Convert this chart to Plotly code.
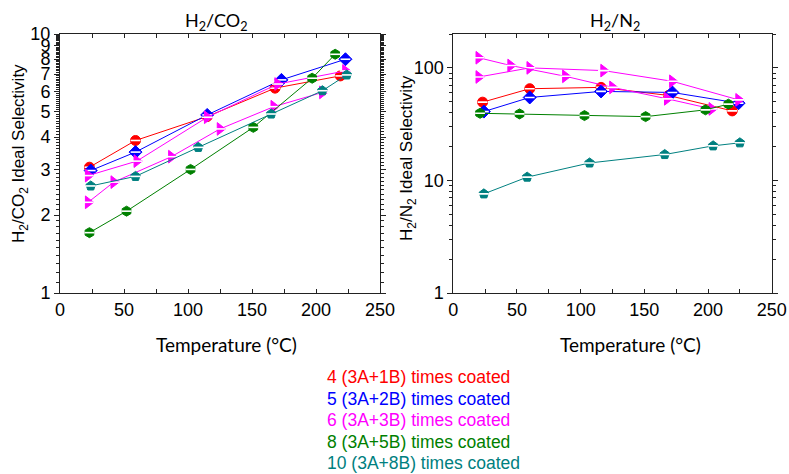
import numpy as np
import plotly.graph_objects as go

# ---------------- data ----------------
# H2/CO2 ideal selectivity (left panel)
co2_red_x = [23, 59, 115, 168, 219]
co2_red_y = [3.06, 3.88, 4.80, 6.18, 6.89]
co2_blue_x = [24, 59, 115, 173, 223]
co2_blue_y = [2.97, 3.50, 4.87, 6.65, 7.99]
co2_mag1_x = [22, 60, 115, 170, 223]
co2_mag1_y = [2.84, 3.23, 4.77, 6.41, 7.20]
co2_mag2_x = [22, 42, 87, 125, 167, 205]
co2_mag2_y = [2.24, 2.68, 3.36, 4.30, 5.24, 5.95]
co2_green_x = [23, 52, 102, 151, 197, 215]
co2_green_y = [1.71, 2.07, 3.00, 4.36, 6.75, 8.35]
co2_teal_x = [24, 59, 108, 165, 205, 224]
co2_teal_y = [2.59, 2.82, 3.65, 4.91, 6.04, 6.95]

# H2/N2 ideal selectivity (right panel)
n2_red_x = [23, 60, 116, 169, 219]
n2_red_y = [49.6, 65.3, 67.1, 56.9, 41.5]
n2_blue_x = [24, 60, 116, 172, 224]
n2_blue_y = [40.9, 54.6, 61.8, 60.5, 48.6]
n2_mag1_x = [20, 60, 118, 172, 224]
n2_mag1_y = [83.0, 100.0, 94.6, 76.0, 52.0]
n2_mag2_x = [20, 45, 88, 125, 168, 203]
n2_mag2_y = [123.0, 105.0, 84.2, 67.1, 53.1, 43.2]
n2_green_x = [21, 52, 103, 151, 198, 216]
n2_green_y = [39.5, 39.0, 37.7, 36.9, 42.4, 47.6]
n2_teal_x = [24, 58, 107, 166, 204, 225]
n2_teal_y = [7.6, 10.7, 14.3, 17.0, 20.3, 21.6]

legend_labels = ["4 (3A+1B) times coated", "5 (3A+2B) times coated",
                 "6 (3A+3B) times coated", "8 (3A+5B) times coated",
                 "10 (3A+8B) times coated"]
x_ticks = [0, 50, 100, 150, 200, 250]
co2_ticks = [1, 2, 3, 4, 5, 6, 7, 8, 9, 10]
n2_ticks = [1, 10, 100]

# ---------------- styling ----------------
RED, BLUE, MAG, GREEN, TEAL = "#ff0000", "#0000ff", "#ff00ff", "#008000", "#008080"
W, H = 789, 474
ARIAL = "Arial"
CALIBRI = "Lato"

series_left = [
    (co2_red_x, co2_red_y, RED, "circle"),
    (co2_blue_x, co2_blue_y, BLUE, "diamond"),
    (co2_mag1_x, co2_mag1_y, MAG, "triangle-right"),
    (co2_mag2_x, co2_mag2_y, MAG, "triangle-right"),
    (co2_green_x, co2_green_y, GREEN, "hexagon"),
    (co2_teal_x, co2_teal_y, TEAL, "pentagon"),
]
series_right = [
    (n2_red_x, n2_red_y, RED, "circle"),
    (n2_blue_x, n2_blue_y, BLUE, "diamond"),
    (n2_mag1_x, n2_mag1_y, MAG, "triangle-right"),
    (n2_mag2_x, n2_mag2_y, MAG, "triangle-right"),
    (n2_green_x, n2_green_y, GREEN, "hexagon"),
    (n2_teal_x, n2_teal_y, TEAL, "pentagon"),
]

fig = go.Figure()
for series, xa, ya in [(series_left, "x", "y"), (series_right, "x2", "y2")]:
    for xs, ys, col, sym in series:
        size = 11 if sym == "triangle-right" else 10
        fig.add_trace(go.Scatter(
            x=xs, y=ys, mode="lines+markers", xaxis=xa, yaxis=ya,
            line=dict(color=col, width=1),
            marker=dict(symbol=sym, size=size, color=col,
                        line=dict(color=col, width=1)),
            showlegend=False, hoverinfo="x+y"))
        # white band emulating the half-filled marker style
        fig.add_trace(go.Scatter(
            x=xs, y=ys, mode="markers", xaxis=xa, yaxis=ya,
            marker=dict(symbol="line-ew", size=size - 3,
                        line=dict(color="white", width=1.6)),
            showlegend=False, hoverinfo="skip"))

ydom = [1 - 293 / H, 1 - 34 / H]
axis_common = dict(showline=True, linecolor="#222", linewidth=1, mirror="ticks",
                   showgrid=False, zeroline=False, automargin=False,
                   tickfont=dict(family=ARIAL, size=18, color="#000"))

xcommon = dict(axis_common, range=[0, 250], tickvals=x_ticks, ticks="inside",
               ticklen=4, tickcolor="#222",
               minor=dict(tickvals=[25, 75, 125, 175, 225], ticks="inside",
                          ticklen=4, tickcolor="#222"))

co2_minor = [v for v in np.round(np.arange(1.1, 10.0, 0.1), 2) if v not in co2_ticks]
n2_minor = [m * d for d in (1, 10, 100) for m in range(2, 10) if m * d <= 200]

fig.update_layout(
    width=W, height=H, margin=dict(l=0, r=0, t=0, b=0),
    paper_bgcolor="white", plot_bgcolor="white",
    xaxis=dict(xcommon, domain=[60 / W, 380 / W], anchor="y"),
    xaxis2=dict(xcommon, domain=[453.3 / W, 771.7 / W], anchor="y2"),
    yaxis=dict(axis_common, type="log", domain=ydom, anchor="x",
               range=[0, 1], tickvals=co2_ticks, ticktext=[str(t) for t in co2_ticks],
               ticks="outside", ticklen=5, tickcolor="#222",
               minor=dict(tickvals=co2_minor, ticks="outside", ticklen=3, tickcolor="#222")),
    yaxis2=dict(axis_common, type="log", domain=ydom, anchor="x2",
                range=[0, np.log10(200)], tickvals=n2_ticks,
                ticktext=[str(t) for t in n2_ticks],
                ticks="outside", ticklen=5, tickcolor="#222",
                minor=dict(tickvals=n2_minor, ticks="outside", ticklen=3, tickcolor="#222")),
)

def px(x, y):
    return x / W, 1 - y / H

ann = []
title_font = dict(family=CALIBRI, size=18, color="#000")
for txt, (cx, cy) in [("H<sub>2</sub>/CO<sub>2</sub>", (216, 22)),
                      ("H<sub>2</sub>/N<sub>2</sub>", (615, 22))]:
    x, y = px(cx, cy)
    ann.append(dict(text=txt, x=x, y=y, xref="paper", yref="paper",
                    showarrow=False, font=title_font, xanchor="center", yanchor="middle"))
for cx in (227, 630):
    x, y = px(cx, 344)
    ann.append(dict(text="Temperature (°C)", x=x, y=y, xref="paper", yref="paper",
                    showarrow=False, font=dict(family=CALIBRI, size=19, color="#000"),
                    xanchor="center", yanchor="middle"))
for txt, (cx, cy) in [("H<sub>2</sub>/CO<sub>2</sub> Ideal Selectivity", (20, 154)),
                      ("H<sub>2</sub>/N<sub>2</sub> Ideal Selectivity", (408, 158))]:
    x, y = px(cx, cy)
    ann.append(dict(text=txt, x=x, y=y, xref="paper", yref="paper", textangle=-90,
                    showarrow=False, font=dict(family=ARIAL, size=17, color="#000"),
                    xanchor="center", yanchor="middle"))
for lab, col, cy in zip(legend_labels, [RED, BLUE, MAG, GREEN, TEAL],
                        [377, 398.5, 420, 441.5, 463]):
    x, y = px(325, cy)
    ann.append(dict(text=lab, x=x, y=y, xref="paper", yref="paper", showarrow=False,
                    font=dict(family=ARIAL, size=17.5, color=col),
                    xanchor="left", yanchor="middle"))
fig.update_layout(annotations=ann)

fig.write_html("out.html")
